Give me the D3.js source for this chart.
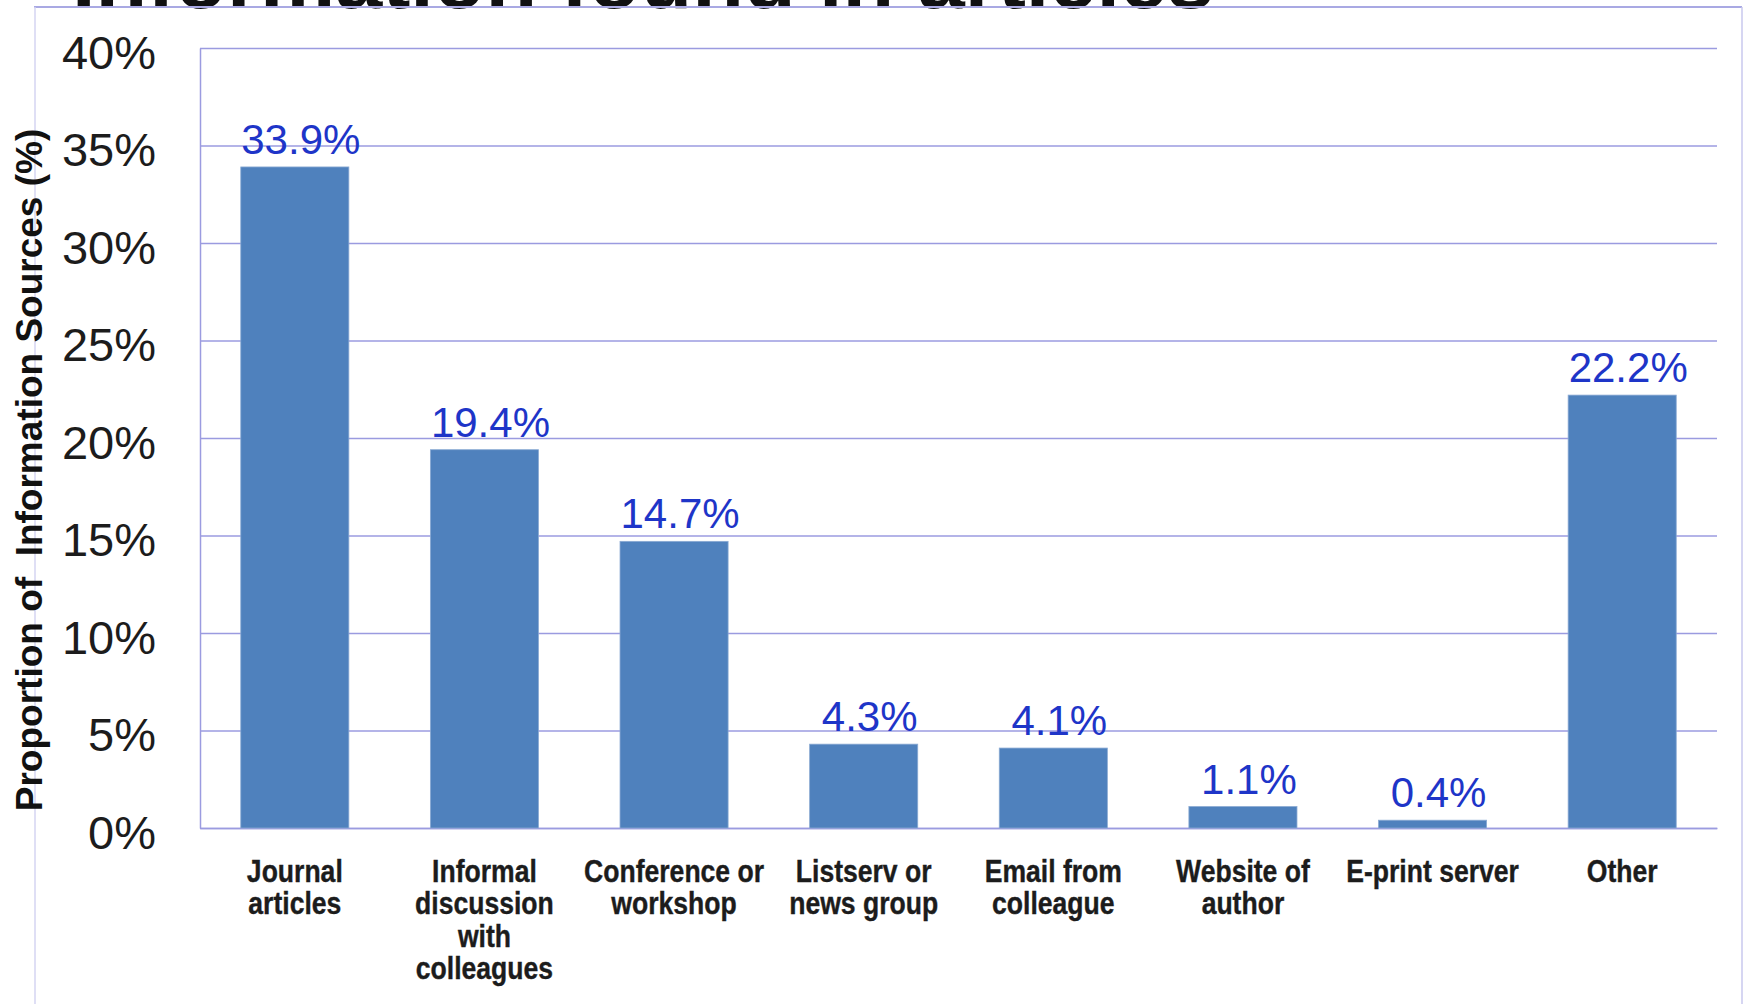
<!DOCTYPE html>
<html>
<head>
<meta charset="utf-8">
<script src="https://cdn.jsdelivr.net/npm/d3@7"></script>
<style>
  body { margin: 0; background: #fff; }
  svg { display: block; font-family: "Liberation Sans", Arial, sans-serif; }
</style>
</head>
<body>
<div id="chart"></div>
<script>
/* DATA */
const categories = ["Journal articles", "Informal discussion with colleagues", "Conference or workshop",
  "Listserv or news group", "Email from colleague", "Website of author", "E-print server", "Other"];
const tickLines = [
  ["Journal", "articles"],
  ["Informal", "discussion", "with", "colleagues"],
  ["Conference or", "workshop"],
  ["Listserv or", "news group"],
  ["Email from", "colleague"],
  ["Website of", "author"],
  ["E-print server"],
  ["Other"]
];
const shares = [33.9, 19.4, 14.7, 4.3, 4.1, 1.1, 0.4, 22.2];
const yTicks = [0, 5, 10, 15, 20, 25, 30, 35, 40];
const yTitle = "Proportion of  Information Sources (%)";
const title = "Information found in articles";

/* CONSTANTS */
const width = 1746, height = 1004;
const plot = { left: 200, right: 1717, top: 48, bottom: 828 };
const gridColor = "#9b9be0";
const barColor = "#4f81bd";
const valueColor = "#1e35c8";
const textColor = "#1c1c1c";

const svg = d3.select("#chart").append("svg")
  .attr("width", width)
  .attr("height", height);

// slide frame + title (cut off at the top, as on the slide)
svg.append("text")
  .attr("x", 72)
  .attr("y", 8)
  .attr("font-size", 86)
  .attr("font-weight", "bold")
  .attr("fill", "#111")
  .attr("textLength", 1142)
  .attr("lengthAdjust", "spacingAndGlyphs")
  .text(title);

svg.append("line")
  .attr("x1", 34).attr("x2", 1742).attr("y1", 7).attr("y2", 7)
  .attr("stroke", "#a9a9e3").attr("stroke-width", 2);
svg.append("line")
  .attr("x1", 35).attr("x2", 35).attr("y1", 7).attr("y2", height)
  .attr("stroke", "#d4d4f2").attr("stroke-width", 1.5);
svg.append("line")
  .attr("x1", 1742).attr("x2", 1742).attr("y1", 7).attr("y2", height)
  .attr("stroke", "#c8c8ee").attr("stroke-width", 1.5);

// SCALES
const xScale = d3.scaleBand()
  .domain(categories)
  .range([plot.left, plot.right])
  .paddingInner(0.43)
  .paddingOuter(0.215);

const yScale = d3.scaleLinear()
  .domain([0, 40])
  .range([plot.bottom, plot.top]);

// AXES
const yAxis = d3.axisLeft(yScale)
  .tickValues(yTicks)
  .tickSize(-(plot.right - plot.left))
  .tickSizeOuter(0)
  .tickPadding(44)
  .tickFormat(d => d + "%");

const gy = svg.append("g")
  .attr("transform", `translate(${plot.left}, 0)`)
  .call(yAxis);
gy.select(".domain").attr("stroke", gridColor).attr("stroke-width", 1.5);
gy.selectAll(".tick line").attr("stroke", gridColor).attr("stroke-width", 1.5);
gy.selectAll(".tick text")
  .attr("font-size", 47)
  .attr("font-family", "Liberation Sans, Arial, sans-serif")
  .attr("fill", textColor)
  .attr("dy", "0.43em");

const xAxis = d3.axisBottom(xScale)
  .tickSize(0)
  .tickSizeOuter(0)
  .tickFormat("");

const gx = svg.append("g")
  .attr("transform", `translate(0, ${plot.bottom})`)
  .call(xAxis);
gx.select(".domain").attr("stroke", gridColor).attr("stroke-width", 1.5);

gx.selectAll(".tick")
  .append("text")
  .attr("transform", "scale(0.83,1)")
  .attr("text-anchor", "middle")
  .attr("font-size", 32)
  .attr("font-weight", "bold")
  .attr("font-family", "Liberation Sans, Arial, sans-serif")
  .attr("fill", textColor)
  .attr("stroke", textColor)
  .attr("stroke-width", 0.4)
  .each(function(d) {
    const lines = tickLines[categories.indexOf(d)];
    d3.select(this).selectAll("tspan")
      .data(lines)
      .join("tspan")
      .attr("x", 0)
      .attr("y", (l, i) => 54 + i * 32.3)
      .text(l => l);
  });

// Y TITLE
svg.append("text")
  .attr("transform", `translate(41.5, 470) rotate(-90)`)
  .attr("text-anchor", "middle")
  .attr("font-size", 37)
  .attr("font-weight", "bold")
  .attr("fill", "#111")
  .style("white-space", "pre")
  .text(yTitle);

// BARS
const rows = categories.map((c, i) => ({ category: c, value: shares[i] }));

svg.selectAll("rect.bar")
  .data(rows)
  .join("rect")
  .attr("class", "bar")
  .attr("x", d => xScale(d.category))
  .attr("y", d => yScale(d.value))
  .attr("width", xScale.bandwidth())
  .attr("height", d => yScale(0) - yScale(d.value))
  .attr("fill", barColor)
  .attr("stroke", "#8aaad3")
  .attr("stroke-width", 0.8);

// VALUE LABELS
svg.selectAll("text.value")
  .data(rows)
  .join("text")
  .attr("class", "value")
  .attr("x", d => xScale(d.category) + xScale.bandwidth() / 2 + 6)
  .attr("y", d => yScale(d.value) - 13)
  .attr("text-anchor", "middle")
  .attr("font-size", 42)
  .attr("fill", valueColor)
  .text(d => d.value.toFixed(1) + "%");
</script>
</body>
</html>
